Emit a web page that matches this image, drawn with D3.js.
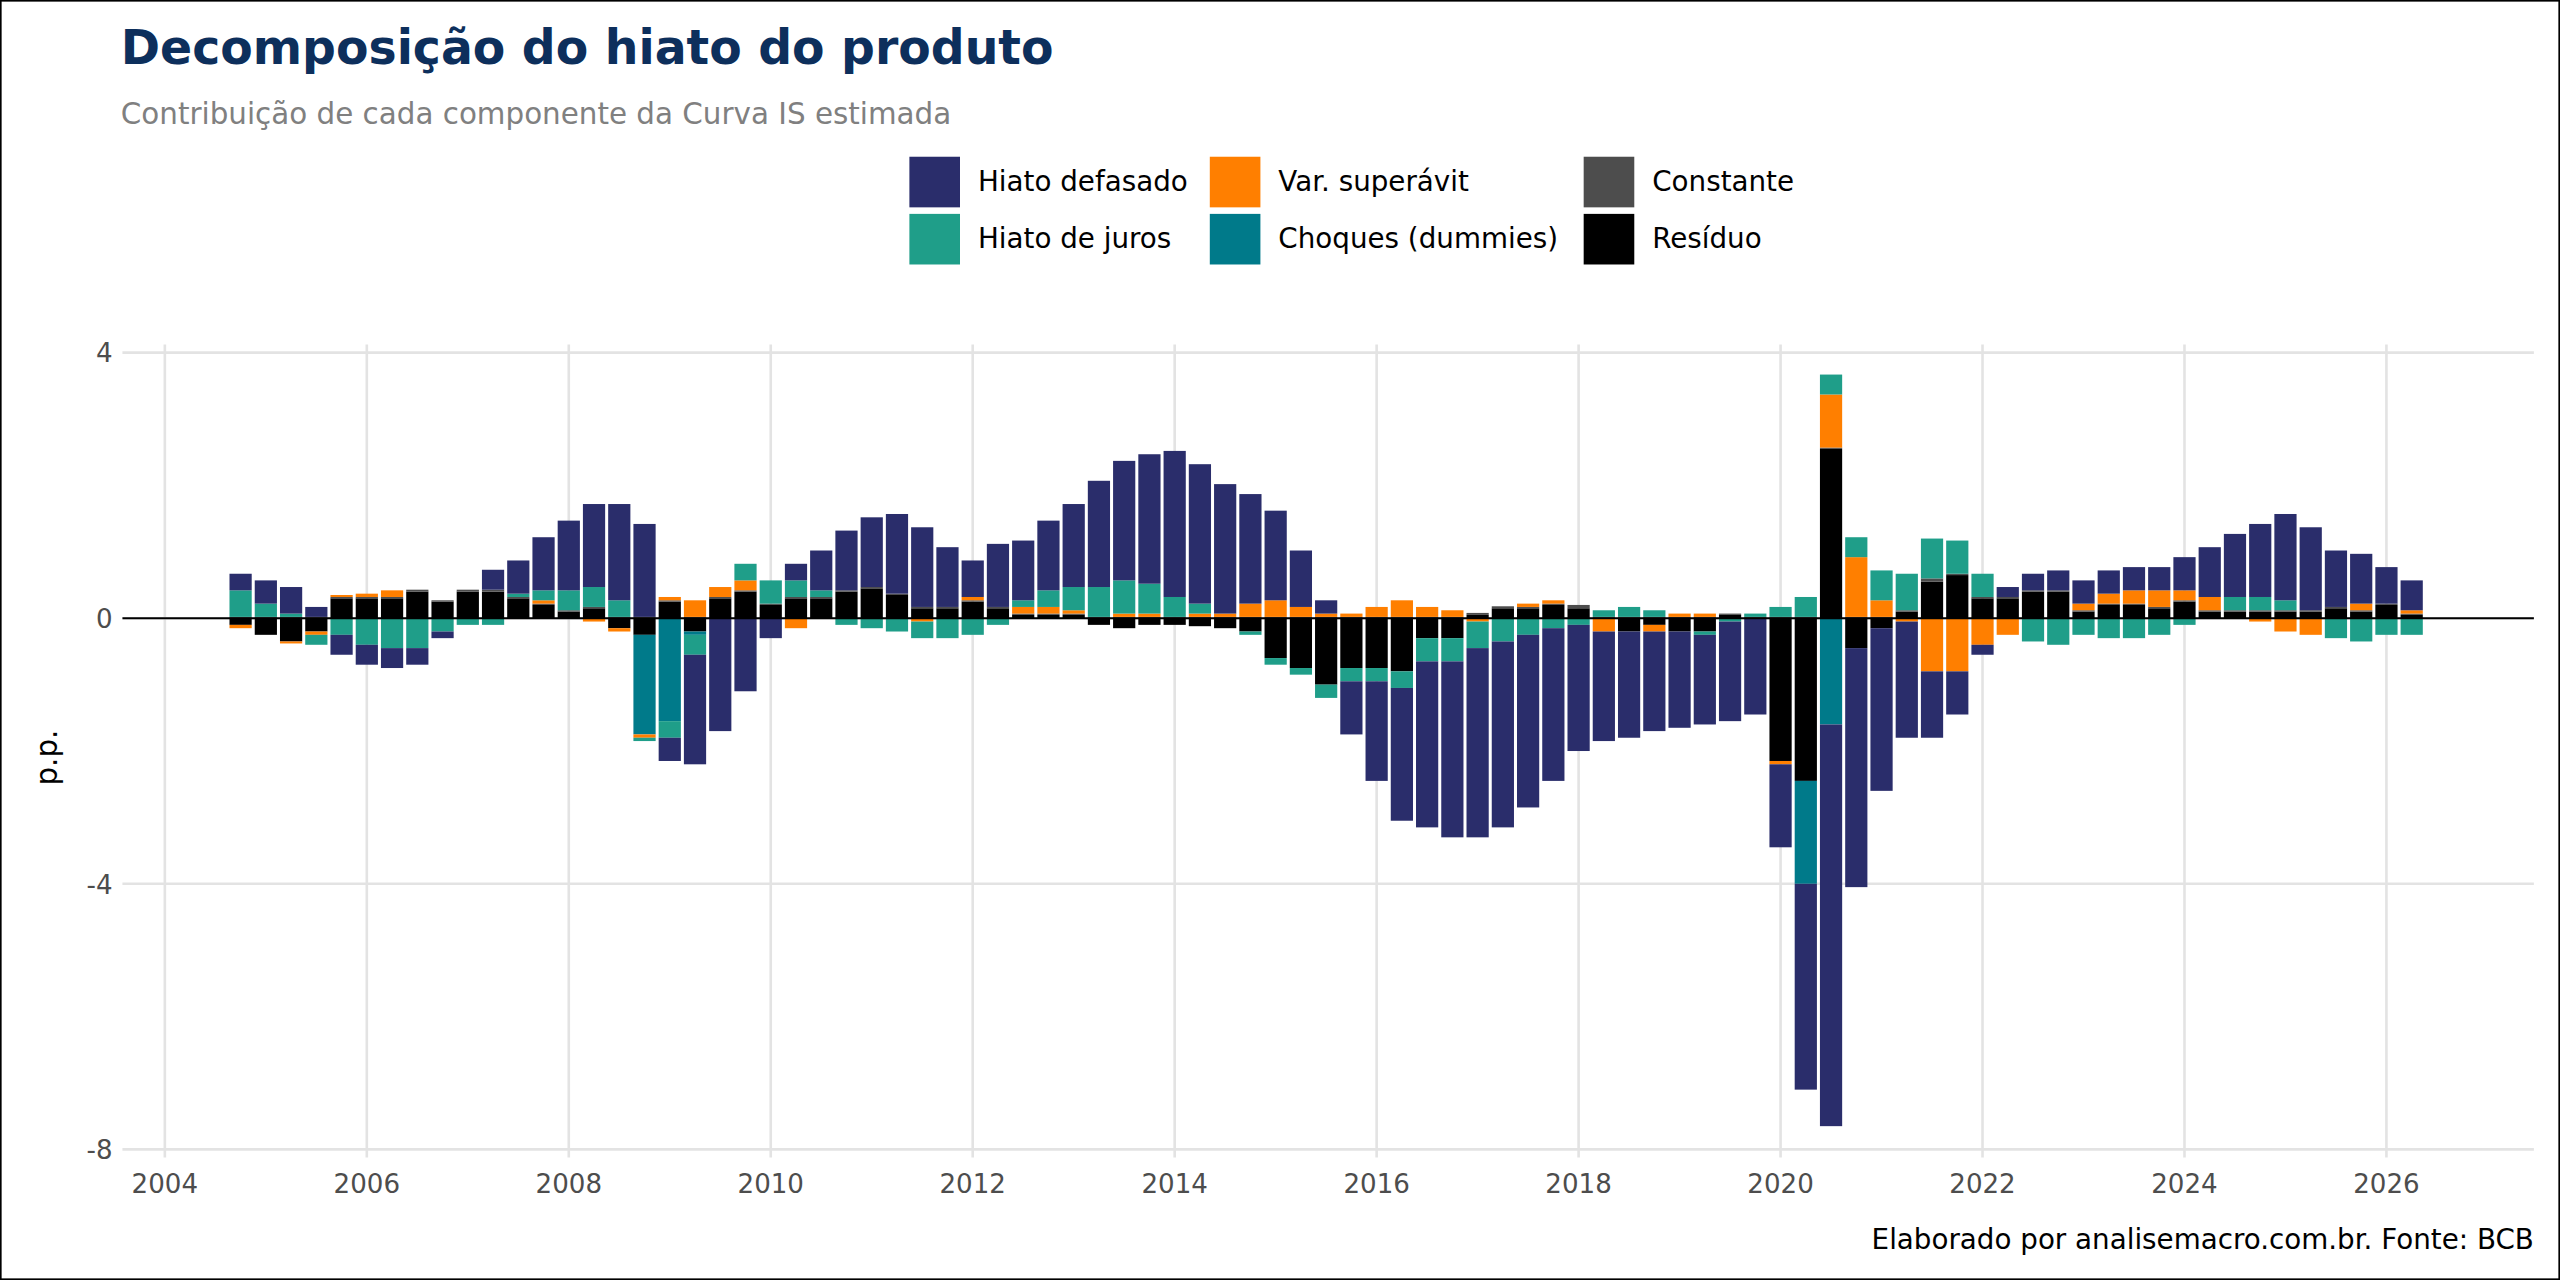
<!DOCTYPE html>
<html><head><meta charset="utf-8">
<script src="https://cdn.jsdelivr.net/npm/d3@7"></script>
<style>body{margin:0;background:#fff}svg{display:block}text{font-family:"DejaVu Sans",sans-serif}</style>
</head><body>
<script>
const startYear = 2004.75;
const seriesNames = ["Hiato defasado","Hiato de juros","Var. superávit","Choques (dummies)","Constante","Resíduo"];
const seriesColors = ["#2a2d6b","#1f9e89","#ff7f00","#007a8a","#4d4d4d","#000000"];
const hiatoDefasado = [0.25,0.35,0.4,0.15,-0.3,-0.3,-0.3,-0.25,-0.1,0,0.3,0.5,0.8,1.05,1.25,1.45,1.4,-0.35,-1.65,-1.7,-1.1,-0.3,0.25,0.6,0.9,1.05,1.2,1.2,0.9,0.55,0.95,0.9,1.05,1.25,1.6,1.8,1.95,2.2,2.1,1.95,1.65,1.35,0.85,0.2,-0.8,-1.5,-2.0,-2.5,-2.65,-2.85,-2.8,-2.6,-2.3,-1.9,-1.65,-1.6,-1.5,-1.45,-1.35,-1.5,-1.45,-1.25,-3.1,-6.05,-3.6,-2.45,-1.75,-1.0,-0.65,-0.15,0.15,0.25,0.3,0.35,0.35,0.35,0.35,0.5,0.75,0.95,1.1,1.3,1.25,0.85,0.75,0.55,0.45];
const hiatoJuros = [0.4,0.2,0.05,-0.15,-0.25,-0.4,-0.45,-0.45,-0.2,-0.1,-0.1,0.05,0.15,0.3,0.3,0.25,-0.05,-0.25,-0.3,0,0.25,0.35,0.25,0.1,-0.1,-0.15,-0.2,-0.25,-0.3,-0.25,-0.1,0.1,0.25,0.35,0.45,0.5,0.45,0.3,0.15,0,-0.05,-0.1,-0.1,-0.2,-0.2,-0.2,-0.25,-0.35,-0.35,-0.4,-0.35,-0.25,-0.15,-0.1,0.1,0.15,0.1,0,-0.05,-0.05,0.05,0.15,0.3,0.3,0.3,0.45,0.55,0.6,0.5,0.35,0,-0.35,-0.4,-0.25,-0.3,-0.3,-0.25,-0.1,0,0.2,0.2,0.15,0,-0.3,-0.35,-0.25,-0.25];
const varSuperavit = [-0.05,0,-0.03,-0.05,0.03,0.05,0.1,0,0,0,0,0,0.05,0,-0.05,-0.05,-0.05,0.05,0.25,0.15,0.15,0,-0.15,0,0,0,0,-0.05,0,0.05,0,0.1,0.1,0.05,0,0.05,0.05,0,0.05,0.05,0.2,0.25,0.15,0.05,0.05,0.15,0.25,0.15,0.1,-0.05,0,0.05,0.05,0,-0.2,0,-0.1,0.05,0.05,0,0,-0.05,0,0.8,0.9,0.25,-0.05,-0.8,-0.8,-0.4,-0.25,0,0,0.1,0.15,0.2,0.25,0.15,0.2,0,-0.05,-0.2,-0.25,0,0.1,0,0.05];
const choques = [0,0,0,0,0,0,0,0,0,0,0,0,0,0,0,0,-1.5,-1.55,-0.05,0,0,0,0,0,0,0,0,0,0,0,0,0,0,0,0,0,0,0,0,0,0,0,0,0,0,0,0,0,0,0,0,0,0,0,0,0,0,0,0,0,0,0,-1.55,-1.6,0,0,0,0,0,0,0,0,0,0,0,0,0,0,0,0,0,0,0,0,0,0,0];
const constante = [0.02,0.02,0.02,0.02,0.02,0.02,0.02,0.03,0.02,0.03,0.03,0.02,0.02,0.02,0.02,0.02,0.02,0.02,0.02,0.02,0.02,0.02,0.02,0.02,0.02,0.02,0.02,0.02,0.02,0.02,0.02,0.02,0.02,0.02,0.02,0.02,0.02,0.02,0.02,0.02,0.02,0.02,0.02,0.02,0.02,0.02,0.02,0.02,0.02,0.03,0.03,0.02,0.02,0.05,0.02,0.02,0.02,0.02,0.02,0.02,0.02,0.02,0.02,0.02,0.02,0.02,0.02,0.05,0.02,0.02,0.02,0.02,0.02,0.02,0.02,0.02,0.02,0.02,0.02,0.02,0.02,0.02,0.02,0.02,0.02,0.02,0.02];
const residuo = [-0.1,-0.25,-0.35,-0.2,0.3,0.3,0.3,0.4,0.25,0.4,0.4,0.3,0.2,0.1,0.15,-0.15,-0.25,0.25,-0.2,0.3,0.4,0.2,0.3,0.3,0.4,0.45,0.35,0.15,0.15,0.25,0.15,0.05,0.05,0.05,-0.1,-0.15,-0.1,-0.1,-0.12,-0.15,-0.2,-0.6,-0.75,-1.0,-0.75,-0.75,-0.8,-0.3,-0.3,0.05,0.15,0.15,0.2,0.15,0,-0.2,-0.1,-0.2,-0.2,0.05,0,-2.15,-2.45,2.55,-0.45,-0.15,0.1,0.55,0.65,0.3,0.3,0.4,0.4,0.1,0.2,0.2,0.15,0.25,0.1,0.1,0.1,0.1,0.1,0.15,0.1,0.2,0.05];
const xTicks = [2004,2006,2008,2010,2012,2014,2016,2018,2020,2022,2024,2026];
const yTicks = [4,0,-4,-8];

const W=1568,H=784;
const svg=d3.select("body").append("svg").attr("width",2560).attr("height",1280).attr("viewBox",`0 0 ${W} ${H}`);
svg.append("rect").attr("x",0.5).attr("y",0.5).attr("width",W-1).attr("height",H-1).attr("fill","#fff").attr("stroke","#000");
const x=d3.scaleLinear().domain([2003.58,2027.46]).range([75,1552]);
const y=d3.scaleLinear().domain([4,-8]).range([216,704]);
const arrays=[hiatoDefasado,hiatoJuros,varSuperavit,choques,constante,residuo];
const rows=hiatoDefasado.map((_,i)=>{const r={t:startYear+i*0.25};seriesNames.forEach((n,k)=>r[n]=arrays[k][i]);return r;});
const order=["Resíduo","Constante","Choques (dummies)","Var. superávit","Hiato de juros","Hiato defasado"];
const stack=d3.stack().keys(order).offset(d3.stackOffsetDiverging)(rows);
const g=svg.append("g");
g.selectAll(".gx").data(xTicks).join("line").attr("x1",d=>x(d)).attr("x2",d=>x(d)).attr("y1",211).attr("y2",709).attr("stroke","#e3e3e3").attr("stroke-width",1.6);
g.selectAll(".gy").data(yTicks).join("line").attr("x1",75).attr("x2",1552).attr("y1",d=>y(d)).attr("y2",d=>y(d)).attr("stroke","#e3e3e3").attr("stroke-width",1.6);
const color=d3.scaleOrdinal().domain(seriesNames).range(seriesColors);
const bw=x(0.22)-x(0);
stack.forEach(s=>{g.append("g").attr("fill",color(s.key)).selectAll("rect").data(s).join("rect")
 .attr("x",d=>x(d.data.t)-bw/2).attr("width",bw).attr("y",d=>y(Math.max(d[0],d[1]))).attr("height",d=>Math.abs(y(d[0])-y(d[1])));});
g.append("line").attr("x1",75).attr("x2",1552).attr("y1",y(0)).attr("y2",y(0)).attr("stroke","#000").attr("stroke-width",1.2);
g.selectAll(".xl").data(xTicks).join("text").attr("x",d=>x(d)).attr("y",731).attr("text-anchor","middle").attr("font-size",16).attr("fill","#4d4d4d").text(d=>d);
g.selectAll(".yl").data(yTicks).join("text").attr("x",69).attr("y",d=>y(d)+6).attr("text-anchor","end").attr("font-size",16).attr("fill","#4d4d4d").text(d=>d);
svg.append("text").attr("transform","translate(35,464) rotate(-90)").attr("text-anchor","middle").attr("font-size",18).text("p.p.");
svg.append("text").attr("x",74).attr("y",39).attr("font-size",29).attr("font-weight","bold").attr("fill","#0d2f5c").text("Decomposição do hiato do produto");
svg.append("text").attr("x",74).attr("y",76).attr("font-size",18).attr("fill","#808080").text("Contribuição de cada componente da Curva IS estimada");
svg.append("text").attr("x",1552).attr("y",765).attr("text-anchor","end").attr("font-size",17).text("Elaborado por analisemacro.com.br. Fonte: BCB");
const legPos=[[557,96],[557,131],[741,96],[741,131],[970,96],[970,131]];
seriesNames.forEach((n,i)=>{const [lx,ly]=legPos[i];
 svg.append("rect").attr("x",lx).attr("y",ly).attr("width",31).attr("height",31).attr("fill",color(n));
 svg.append("text").attr("x",lx+42).attr("y",ly+21).attr("font-size",17).text(n);});
</script>
</body></html>
